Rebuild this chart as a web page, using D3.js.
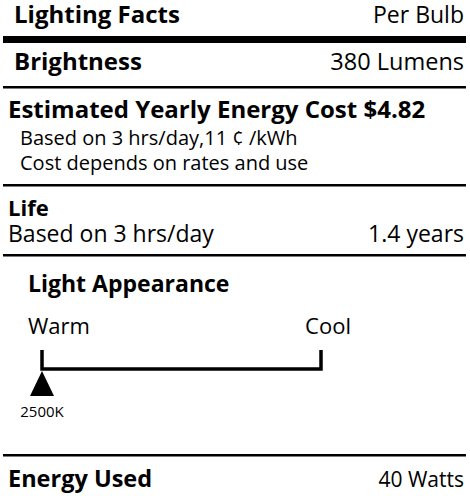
<!DOCTYPE html><html><head><script src="https://cdn.jsdelivr.net/npm/d3@7"></script>
<style>body{margin:0;background:#fff}</style></head><body><svg id="c" width="470" height="496"></svg>
<script>
const rows = [
 {label:"Lighting Facts", value:"Per Bulb"},
 {label:"Brightness", value:"380 Lumens"},
 {label:"Estimated Yearly Energy Cost $4.82", value:""},
 {label:"Life", value:"1.4 years"},
 {label:"Energy Used", value:"40 Watts"}
];
const costNotes = ["Based on 3 hrs/day,11 ¢ /kWh","Cost depends on rates and use"];
const lifeNote = "Based on 3 hrs/day";
const scaleEnds = ["Warm","Cool"];
const kelvinDomain = [2500, 6500];
const kelvinValue = 2500;
const kelvinLabel = "2500K";

const svg = d3.select("#c"), F="'Open Sans', sans-serif";
function t(x,y,s,size,w,anchor){svg.append("text").attr("x",x).attr("y",y).text(s).attr("font-family",F).attr("font-size",size).attr("font-weight",w||400).attr("text-anchor",anchor||"start").attr("fill","#000");}
function line(y,h){svg.append("rect").attr("x",3).attr("y",y).attr("width",463).attr("height",h).attr("fill","#000");}
t(14,23,rows[0].label,24,700); t(464,23,rows[0].value,23,400,"end");
line(36,7);
t(14,70,rows[1].label,24,700); t(464,70,rows[1].value,23.5,400,"end");
line(86,2.5);
t(8,118,rows[2].label,24,700);
t(20,145,costNotes[0],20); t(20,170,costNotes[1],20);
line(184,2.5);
t(8,216,rows[3].label,22,700);
t(8,242,lifeNote,23); t(464,242,rows[3].value,23,400,"end");
line(254,2.5);
t(28,292,"Light Appearance",23,700);
t(28,334,scaleEnds[0],22); t(351,334,scaleEnds[1],22,400,"end");
const x=d3.scaleLinear().domain(kelvinDomain).range([42,321]);
svg.append("path").attr("d",`M${x(kelvinDomain[0])},350V369H${x(kelvinDomain[1])}V350`).attr("fill","none").attr("stroke","#000").attr("stroke-width",3.5);
const kx=x(kelvinValue);
svg.append("path").attr("d",`M${kx},371L${kx-12},396L${kx+12},396Z`).attr("fill","#000");
t(kx,417,kelvinLabel,15,400,"middle");
line(454,2.5);
t(8,487,rows[4].label,23.5,700); t(464,487,rows[4].value,21,400,"end");
</script></body></html>
